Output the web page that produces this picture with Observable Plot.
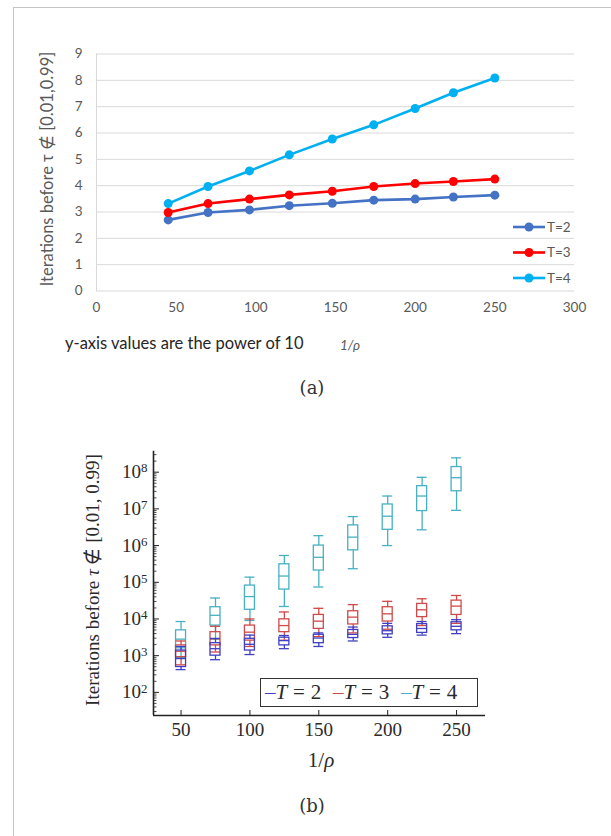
<!DOCTYPE html>
<html><head><meta charset="utf-8">
<script src="https://cdn.jsdelivr.net/npm/d3@7"></script>
<script src="https://cdn.jsdelivr.net/npm/@observablehq/plot@0.6"></script>
<style>
html,body{margin:0;padding:0;background:#fff;overflow:hidden;}
#page{position:relative;width:611px;height:836px;overflow:hidden;background:#fff;}
.abs{position:absolute;white-space:nowrap;line-height:1;}
.ctr{transform:translate(-50%,-50%);}
.rot{transform:translate(-50%,-50%) rotate(-90deg);}
.item{display:inline-block;width:68px;}
.eq{margin:0 0.28em;}
</style></head><body><div id="page"></div>
<script>
// ---------- (a) data ----------
const rhoA = [45, 70, 96, 121, 148, 174, 200, 224, 250];
const seriesA = ["T=2", "T=3", "T=4"];
const colorsA = ["#4472C4", "#FF0000", "#00B0F0"];
const t2A = [2.70, 2.98, 3.08, 3.24, 3.33, 3.45, 3.49, 3.57, 3.64];
const t3A = [2.98, 3.32, 3.49, 3.65, 3.79, 3.97, 4.08, 4.16, 4.25];
const t4A = [3.32, 3.97, 4.56, 5.17, 5.77, 6.31, 6.93, 7.53, 8.09];
const xTicksA = [0, 50, 100, 150, 200, 250, 300];
const yTicksA = [0, 1, 2, 3, 4, 5, 6, 7, 8, 9];

// ---------- (b) data (log10 of iterations) ----------
const rhoB = [50, 75, 100, 125, 150, 175, 200, 225, 250];
const seriesB = ["T = 2", "T = 3", "T = 4"];
const colorsB = ["#3F3FC4", "#CF4A4A", "#47B0C2"];
const t2Lo  = [2.62, 2.89, 3.03, 3.19, 3.25, 3.40, 3.50, 3.56, 3.60];
const t2Q1  = [2.69, 3.00, 3.14, 3.28, 3.34, 3.48, 3.58, 3.62, 3.69];
const t2Med = [2.92, 3.19, 3.31, 3.41, 3.48, 3.58, 3.68, 3.74, 3.80];
const t2Q3  = [3.14, 3.34, 3.46, 3.49, 3.57, 3.70, 3.80, 3.86, 3.91];
const t2Hi  = [3.25, 3.47, 3.56, 3.55, 3.62, 3.78, 3.88, 3.93, 3.98];
const t3Lo  = [2.75, 3.10, 3.25, 3.42, 3.52, 3.62, 3.72, 3.82, 3.88];
const t3Q1  = [2.96, 3.28, 3.41, 3.64, 3.73, 3.85, 3.93, 4.05, 4.11];
const t3Med = [3.12, 3.46, 3.64, 3.82, 3.94, 4.05, 4.14, 4.25, 4.35];
const t3Q3  = [3.28, 3.64, 3.82, 3.99, 4.11, 4.21, 4.32, 4.41, 4.50];
const t3Hi  = [3.40, 3.80, 4.00, 4.19, 4.29, 4.39, 4.48, 4.55, 4.64];
const t4Lo  = [2.95, 3.45, 3.96, 4.34, 4.87, 5.37, 6.00, 6.43, 6.96];
const t4Q1  = [3.20, 3.82, 4.25, 4.80, 5.32, 5.87, 6.43, 6.94, 7.48];
const t4Med = [3.45, 4.10, 4.61, 5.17, 5.68, 6.23, 6.80, 7.35, 7.85];
const t4Q3  = [3.69, 4.32, 4.91, 5.49, 6.00, 6.55, 7.12, 7.62, 8.14];
const t4Hi  = [3.93, 4.57, 5.14, 5.73, 6.27, 6.79, 7.35, 7.86, 8.39];
const xTicksB = [50, 100, 150, 200, 250];
const yTicksB = [1e2, 1e3, 1e4, 1e5, 1e6, 1e7, 1e8];

const page = document.getElementById("page");
function addDiv(html, css, cls) {
  const d = document.createElement("div");
  d.className = "abs " + (cls || "");
  d.innerHTML = html;
  Object.assign(d.style, css);
  page.appendChild(d);
  return d;
}

// frame border
addDiv("", {left: "13px", top: "7px", width: "620px", height: "900px", borderLeft: "1.5px solid #C4C4C4", borderTop: "1.5px solid #C4C4C4"});

// ---------- chart (a) ----------
const valsA = [t2A, t3A, t4A];
const dataA = seriesA.flatMap((s, k) => rhoA.map((x, i) => ({series: s, x, y: valsA[k][i]})));
const chartA = Plot.plot({
  width: 611, height: 400,
  marginLeft: 96, marginRight: 37, marginTop: 53.5, marginBottom: 109.5,
  style: {fontFamily: "Lato", fontSize: "13.5px", color: "#595959", background: "transparent"},
  x: {domain: [0, 300]},
  y: {domain: [0, 9]},
  color: {domain: seriesA, range: colorsA},
  marks: [
    Plot.gridY(yTicksA, {stroke: "#D9D9D9", strokeOpacity: 1}),
    Plot.ruleX([0], {stroke: "#D9D9D9"}),
    Plot.axisY({ticks: yTicksA, tickSize: 0, tickPadding: 14, label: null}),
    Plot.axisX({ticks: xTicksA, tickSize: 0, tickPadding: 11, label: null}),
    Plot.line(dataA, {x: "x", y: "y", z: "series", stroke: "series", strokeWidth: 2.6}),
    Plot.dot(dataA, {x: "x", y: "y", fill: "series", r: 4.5})
  ]
});
Object.assign(chartA.style, {position: "absolute", left: "0px", top: "0px"});
page.appendChild(chartA);

// legend (a)
const legA = d3.create("svg").attr("width", 80).attr("height", 90)
  .style("position", "absolute").style("left", "510px").style("top", "212px");
seriesA.forEach((s, k) => {
  const g = legA.append("g").attr("transform", `translate(0,${15 + k * 25.5})`);
  g.append("line").attr("x1", 3).attr("x2", 35).attr("y1", 0).attr("y2", 0).attr("stroke", colorsA[k]).attr("stroke-width", 2.6);
  g.append("circle").attr("cx", 19).attr("cy", 0).attr("r", 4.5).attr("fill", colorsA[k]);
  g.append("text").attr("x", 37).attr("y", 0).attr("dy", "0.36em").attr("font-family", "Lato").attr("font-size", 13.5).attr("fill", "#595959").text(s);
});
page.appendChild(legA.node());

addDiv("Iterations before τ ∉ [0.01,0.99]", {left: "47px", top: "169px", fontFamily: "Lato", fontSize: "16.5px", color: "#595959"}, "rot");
addDiv("y-axis values are the power of 10", {left: "65px", top: "335px", fontFamily: "Lato", fontSize: "16.5px", color: "#262626"});
addDiv("1/ρ", {left: "350px", top: "346px", fontFamily: "Lato", fontStyle: "italic", fontSize: "13.5px", color: "#595959"}, "ctr");
addDiv("(a)", {left: "312px", top: "388px", fontFamily: "DejaVu Serif", fontSize: "18px", color: "#333"}, "ctr");

// ---------- chart (b) ----------
const yMinB = 23.4, yMaxB = 3.73e8, xMinB = 30, xMaxB = 271;
const statsB = [[t2Lo, t2Q1, t2Med, t2Q3, t2Hi], [t3Lo, t3Q1, t3Med, t3Q3, t3Hi], [t4Lo, t4Q1, t4Med, t4Q3, t4Hi]];
const boxB = seriesB.map((s, k) => rhoB.map((x, i) => ({
  series: s, x,
  lo: 10 ** statsB[k][0][i], q1: 10 ** statsB[k][1][i], med: 10 ** statsB[k][2][i],
  q3: 10 ** statsB[k][3][i], hi: 10 ** statsB[k][4][i]
})));
const minorB = d3.scaleLog().domain([yMinB, yMaxB]).ticks()
  .filter(v => Math.abs(Math.log10(v) - Math.round(Math.log10(v))) > 1e-6);

const boxMarks = [];
[2, 1, 0].forEach(k => {
  const d = boxB[k];
  const o = {stroke: "series", strokeWidth: 1.3};
  boxMarks.push(
    Plot.ruleX(d, {x: "x", y1: "lo", y2: "q1", ...o}),
    Plot.ruleX(d, {x: "x", y1: "q3", y2: "hi", ...o}),
    Plot.rect(d, {x1: "x", x2: "x", y1: "q1", y2: "q3", insetLeft: -5, insetRight: -5, fill: "none", ...o}),
    Plot.ruleY(d, {x1: "x", x2: "x", y: "med", insetLeft: -5, insetRight: -5, ...o}),
    Plot.ruleY(d, {x1: "x", x2: "x", y: "lo", insetLeft: -5, insetRight: -5, ...o}),
    Plot.ruleY(d, {x1: "x", x2: "x", y: "hi", insetLeft: -5, insetRight: -5, ...o})
  );
});

const chartB = Plot.plot({
  width: 611, height: 340,
  marginLeft: 153, marginRight: 126, marginTop: 30.7, marginBottom: 45,
  style: {fontFamily: "Liberation Serif", fontSize: "19px", color: "#2a2a2a", background: "transparent"},
  x: {domain: [xMinB, xMaxB]},
  y: {type: "log", domain: [yMinB, yMaxB]},
  color: {domain: seriesB, range: colorsB},
  marks: [
    ...boxMarks,
    Plot.ruleY(minorB, {y: d => d, x1: xMinB, x2: xMinB, insetRight: -3.5, stroke: "#222", strokeWidth: 0.8}),
    Plot.ruleY(yTicksB, {y: d => d, x1: xMinB, x2: xMinB, insetRight: -6, stroke: "#222", strokeWidth: 1}),
    Plot.ruleX(xTicksB, {x: d => d, y1: yMinB, y2: yMinB, insetTop: -5, stroke: "#222", strokeWidth: 1}),
    Plot.ruleX([xMinB], {stroke: "#222", strokeWidth: 1.6}),
    Plot.ruleY([yMinB], {stroke: "#222", strokeWidth: 1.6}),
    Plot.axisY({ticks: yTicksB, tickSize: 0, tickPadding: 6, label: null, fontSize: 19, tickFormat: d => "10^" + Math.round(Math.log10(d))}),
    Plot.axisX({ticks: xTicksB, tickSize: 0, tickPadding: 7, label: null})
  ]
});
Object.assign(chartB.style, {position: "absolute", left: "0px", top: "420px"});
d3.select(chartB).selectAll("g[aria-label='y-axis tick label'] text").each(function() {
  const t = d3.select(this).text();
  const [base, exp] = t.split("^");
  const el = d3.select(this);
  el.text(null);
  el.append("tspan").text(base);
  el.append("tspan").attr("dy", "-0.45em").attr("font-size", "0.68em").text(exp);
});
page.appendChild(chartB);

// legend (b)
addDiv(seriesB.map((s, k) => {
  const [t, v] = s.split(" = ");
  return `<span class="item"><span style="color:${colorsB[k]}">–</span><i>${t}</i><span class="eq">=</span>${v}</span>`;
}).join(""), {
  left: "260px", top: "678px", width: "212px", height: "27px", border: "1.6px solid #333",
  fontFamily: "Liberation Serif", fontSize: "21px", color: "#2a2a2a", lineHeight: "27px", paddingLeft: "4px", background: "#fff"
});

addDiv("Iterations before <i>τ</i> ∉ [0.01, 0.99]", {left: "92px", top: "580px", fontFamily: "Liberation Serif", fontSize: "19px", color: "#2a2a2a"}, "rot");
addDiv("1/<i>ρ</i>", {left: "321px", top: "760px", fontFamily: "Liberation Serif", fontSize: "21px", color: "#2a2a2a"}, "ctr");
addDiv("(b)", {left: "312px", top: "806px", fontFamily: "DejaVu Serif", fontSize: "18px", color: "#333"}, "ctr");
</script></body></html>
